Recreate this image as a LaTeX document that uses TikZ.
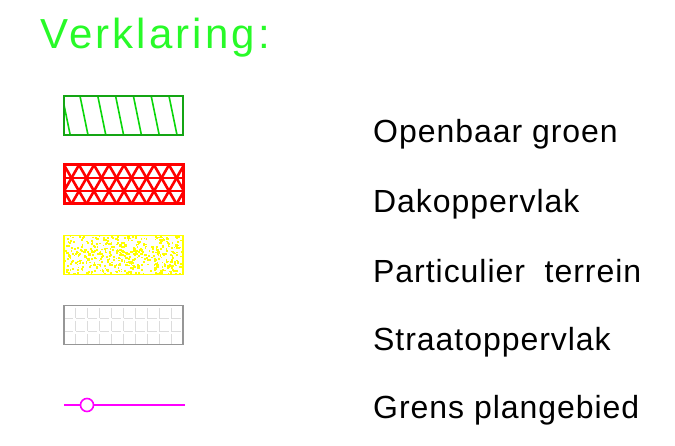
\documentclass[tikz,border=0pt]{standalone}
\usepackage{fontspec}
\setmainfont{Liberation Sans}[LetterSpace=3]
\usepackage{xcolor}
\usepackage{tikz}
\usetikzlibrary{positioning}

\definecolor{titelgroen}{RGB}{40,250,40}
\definecolor{arceergroen}{RGB}{10,215,10}
\definecolor{randgroen}{RGB}{20,165,20}
\definecolor{dakrood}{RGB}{255,0,0}
\definecolor{terreingeel}{RGB}{255,255,0}
\definecolor{straatgrijs}{RGB}{150,150,150}
\definecolor{rastergrijs}{RGB}{220,220,220}
\definecolor{grensroze}{RGB}{255,0,255}

% vlakken: 119 x 39, patronen rond het middelpunt getekend
\tikzset{
  vlak/.style={rectangle, minimum width=119pt, minimum height=39pt, inner sep=0pt, outer sep=0pt, fill=white},
  groenvlak/.style={vlak, draw=randgroen, line width=1.5pt,
    path picture={
      \foreach \k in {-1,...,6}
        \draw[arceergroen, line width=1.6pt] (\k*17.8-43.5,-19.5) -- (\k*17.8-35.5,19.5);
    }},
  dakvlak/.style={vlak, draw=dakrood, line width=3pt,
    path picture={
      \foreach \r in {-6.5,6.5}
        \draw[dakrood, line width=2.6pt] (-59.5,\r) -- (59.5,\r);
      \foreach \k in {-3,...,9} {
        \draw[dakrood, line width=2.6pt] (\k*15-59.5,-19.5) -- (\k*15-37,19.5);
        \draw[dakrood, line width=2.6pt] (\k*15-29.5,-19.5) -- (\k*15-52,19.5);
      }
    }},
  terreinvlak/.style={vlak, draw=terreingeel, line width=1.5pt,
    path picture={
      \pgfmathsetseed{1234}
      \foreach \i in {1,...,520} {
        \pgfmathsetmacro\px{rnd*119-59.5}
        \pgfmathsetmacro\py{rnd*39-19.5}
        \pgfmathsetmacro\pd{1.2+rnd*1.2}
        \fill[terreingeel] (\px,\py) rectangle ++(\pd,\pd);
      }
    }},
  straatvlak/.style={vlak, draw=straatgrijs, line width=1.4pt,
    path picture={
      \foreach \k in {1,...,9}
        \draw[rastergrijs, line width=1pt, dash pattern=on 10.5pt off 2.5pt] (\k*11.9-59.5,-17) -- (\k*11.9-59.5,19.5);
      \foreach \r in {-6.5,6.5}
        \draw[rastergrijs, line width=1pt, dash pattern=on 9.4pt off 2.5pt] (-59.5,\r) -- (59.5,\r);
    }},
  grenslijn/.style={grensroze, line width=1.2pt},
  grenspunt/.style={circle, draw=grensroze, fill=white, line width=1.6pt, minimum size=13pt, inner sep=0pt},
  titel/.style={anchor=base west, inner sep=0pt, text=titelgroen, font=\fontsize{42}{42}\selectfont\addfontfeatures{LetterSpace=7.5}},
  uitleg/.style={anchor=base west, inner sep=0pt, font=\fontsize{32}{32}\selectfont},
}

\begin{document}
\begin{tikzpicture}[x=1pt, y=-1pt]
   \useasboundingbox (0,0) rectangle (675,446);

   \node[titel] (titel) at (40,49) {Verklaring:};

   % legenda vlakken
   \node[groenvlak] (groen) at (123.5,115.5) {};
   \node[dakvlak] (dak) at (123.5,184.5) {};
   \node[terreinvlak] (terrein) at (123.5,255) {};
   \node[straatvlak] (straat) at (123.5,325) {};

   % grens plangebied
   \coordinate (grensA) at (64,405);
   \coordinate (grensB) at (185,405);
   \node[grenspunt] (punt) at (87,405) {};
   \draw[grenslijn] (grensA) -- (punt) (punt) -- (grensB);

   % teksten
   \node[uitleg] (t1) at (373,143) {Openbaar groen};
   \node[uitleg] (t2) at (373,213) {Dakoppervlak};
   \node[uitleg] (t3) at (373,283) {Particulier\ \ terrein};
   \node[uitleg] (t4) at (373,351) {Straatoppervlak};
   \node[uitleg] (t5) at (373,418) {Grens plangebied};
\end{tikzpicture}
\end{document}
